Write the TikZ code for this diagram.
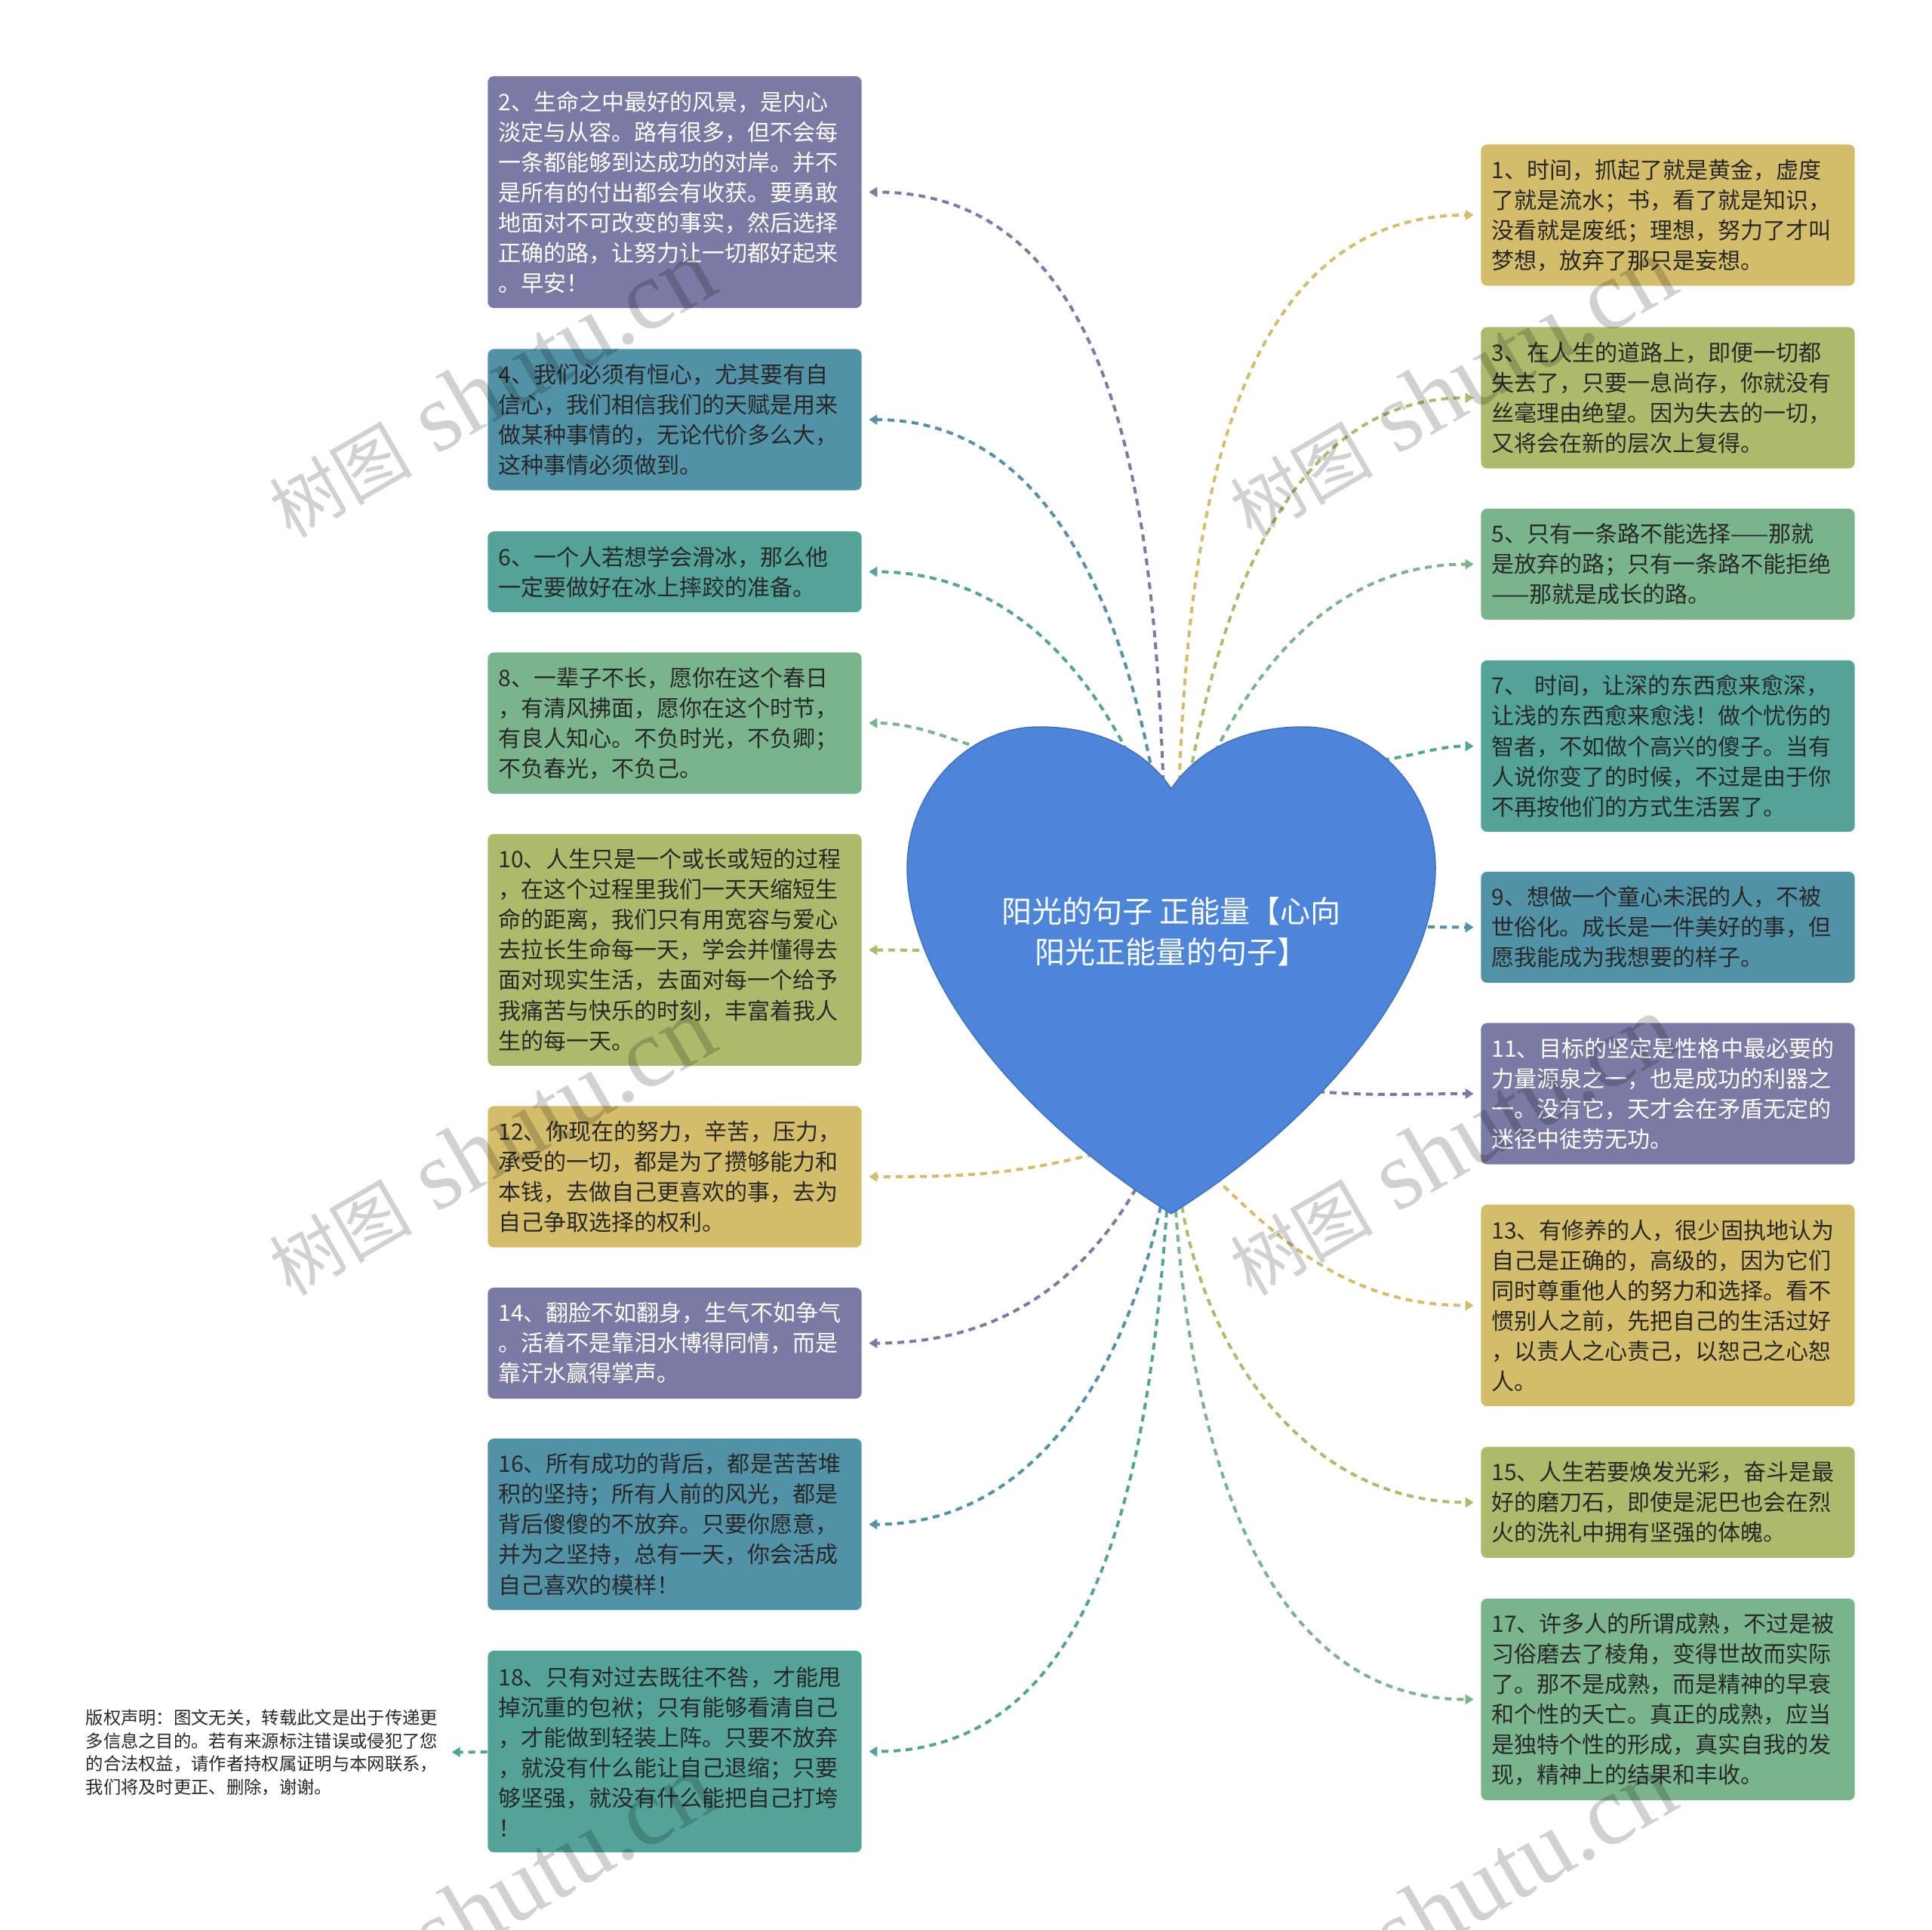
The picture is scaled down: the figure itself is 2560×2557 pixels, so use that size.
\documentclass[tikz,border=0pt]{standalone}
\usepackage{fontspec}
\newfontfamily\cjk{Noto Sans CJK SC}
\newfontfamily\wmserif{Liberation Serif}
\usetikzlibrary{arrows.meta}
\definecolor{cpurple}{RGB}{122,122,164}
\definecolor{cblue}{RGB}{82,146,167}
\definecolor{cteal}{RGB}{83,163,152}
\definecolor{cgreen}{RGB}{122,180,140}
\definecolor{colive}{RGB}{173,186,108}
\definecolor{cyellow}{RGB}{212,189,106}
\definecolor{cheart}{RGB}{76,133,218}
\definecolor{cdark}{RGB}{40,40,40}
\tikzset{sunmap/.style={x=0.01cm,y=0.01cm},
  card/.style={fill=#1,rounded corners=0.08cm,inner xsep=0.14cm,inner ysep=0pt,text width=4.67cm,
    align=left,text=cdark,font=\cjk\fontsize{8.54pt}{11.38pt}\selectfont},
  nlines/.style={minimum height={0.4cm*#1+0.27cm}},
  link/.style={draw=#1,line width=0.04cm,dash pattern=on 0.09cm off 0.07cm,
    -{Triangle[length=0.11cm,width=0.13cm]},shorten >=0.09cm},
  wmark/.style={rotate=30,text=black,text opacity=0.18,font=\wmserif\fontsize{37pt}{39pt}\selectfont}}

\begin{document}
\begin{tikzpicture}[sunmap]
    \fill[white] (0,0) rectangle (2560,-2557);
    \useasboundingbox (0,0) rectangle (2560,-2557);
    % left column
    \node[card=cpurple,nlines=7,text=white] (b2) at (894,-254.5) {2、生命之中最好的风景，是内心\\淡定与从容。路有很多，但不会每\\一条都能够到达成功的对岸。并不\\是所有的付出都会有收获。要勇敢\\地面对不可改变的事实，然后选择\\正确的路，让努力让一切都好起来\\。早安！};
    \node[card=cblue,nlines=4] (b4) at (894,-556) {4、我们必须有恒心，尤其要有自\\信心，我们相信我们的天赋是用来\\做某种事情的，无论代价多么大，\\这种事情必须做到。};
    \node[card=cteal,nlines=2] (b6) at (894,-757.5) {6、一个人若想学会滑冰，那么他\\一定要做好在冰上摔跤的准备。};
    \node[card=cgreen,nlines=4] (b8) at (894,-958) {8、一辈子不长，愿你在这个春日\\，有清风拂面，愿你在这个时节，\\有良人知心。不负时光，不负卿；\\不负春光，不负己。};
    \node[card=colive,nlines=7] (b10) at (894,-1258.5) {10、人生只是一个或长或短的过程\\，在这个过程里我们一天天缩短生\\命的距离，我们只有用宽容与爱心\\去拉长生命每一天，学会并懂得去\\面对现实生活，去面对每一个给予\\我痛苦与快乐的时刻，丰富着我人\\生的每一天。};
    \node[card=cyellow,nlines=4] (b12) at (894,-1559) {12、你现在的努力，辛苦，压力，\\承受的一切，都是为了攒够能力和\\本钱，去做自己更喜欢的事，去为\\自己争取选择的权利。};
    \node[card=cpurple,nlines=3,text=white] (b14) at (894,-1779.5) {14、翻脸不如翻身，生气不如争气\\。活着不是靠泪水博得同情，而是\\靠汗水赢得掌声。};
    \node[card=cblue,nlines=5] (b16) at (894,-2019.5) {16、所有成功的背后，都是苦苦堆\\积的坚持；所有人前的风光，都是\\背后傻傻的不放弃。只要你愿意，\\并为之坚持，总有一天，你会活成\\自己喜欢的模样！};
    \node[card=cteal,nlines=6] (b18) at (894,-2320.5) {18、只有对过去既往不咎，才能甩\\掉沉重的包袱；只有能够看清自己\\，才能做到轻装上阵。只要不放弃\\，就没有什么能让自己退缩；只要\\够坚强，就没有什么能把自己打垮\\！};
    % right column
    \node[card=cyellow,nlines=4] (b1) at (2210,-285) {1、时间，抓起了就是黄金，虚度\\了就是流水；书，看了就是知识，\\没看就是废纸；理想，努力了才叫\\梦想，放弃了那只是妄想。};
    \node[card=colive,nlines=4] (b3) at (2210,-527) {3、在人生的道路上，即便一切都\\失去了，只要一息尚存，你就没有\\丝毫理由绝望。因为失去的一切，\\又将会在新的层次上复得。};
    \node[card=cgreen,nlines=3] (b5) at (2210,-747.5) {5、只有一条路不能选择——那就\\是放弃的路；只有一条路不能拒绝\\——那就是成长的路。};
    \node[card=cteal,nlines=5] (b7) at (2210,-988.5) {7、 时间，让深的东西愈来愈深，\\让浅的东西愈来愈浅！做个忧伤的\\智者，不如做个高兴的傻子。当有\\人说你变了的时候，不过是由于你\\不再按他们的方式生活罢了。};
    \node[card=cblue,nlines=3] (b9) at (2210,-1228.5) {9、想做一个童心未泯的人，不被\\世俗化。成长是一件美好的事，但\\愿我能成为我想要的样子。};
    \node[card=cpurple,nlines=4,text=white] (b11) at (2210,-1449) {11、目标的坚定是性格中最必要的\\力量源泉之一，也是成功的利器之\\一。没有它，天才会在矛盾无定的\\迷径中徒劳无功。};
    \node[card=cyellow,nlines=6] (b13) at (2210,-1729.5) {13、有修养的人，很少固执地认为\\自己是正确的，高级的，因为它们\\同时尊重他人的努力和选择。看不\\惯别人之前，先把自己的生活过好\\，以责人之心责己，以恕己之心恕\\人。};
    \node[card=colive,nlines=3] (b15) at (2210,-1990.5) {15、人生若要焕发光彩，奋斗是最\\好的磨刀石，即使是泥巴也会在烈\\火的洗礼中拥有坚强的体魄。};
    \node[card=cgreen,nlines=6] (b17) at (2210,-2251.5) {17、许多人的所谓成熟，不过是被\\习俗磨去了棱角，变得世故而实际\\了。那不是成熟，而是精神的早衰\\和个性的夭亡。真正的成熟，应当\\是独特个性的形成，真实自我的发\\现，精神上的结果和丰收。};
    % start points on the heart
    \foreach \b/\x/\y in {2/1542/-1052,4/1530/-1042,6/1508/-1025,8/1330/-1000,10/1250/-1259,12/1465/-1525,
      14/1505/-1575,16/1538/-1598,18/1546/-1604,1/1562/-1052,3/1574/-1042,5/1596/-1025,7/1800/-1010,
      9/1860/-1228,11/1730/-1445,13/1610/-1560,15/1566/-1598,17/1558/-1604}
      \coordinate (s\b) at (\x,\y);
    \foreach \b/\o/\c in {2/92/cpurple,4/100/cblue,6/115/cteal,8/165/cgreen,10/180/colive,12/195/cyellow,
      14/240/cpurple,16/258/cblue,18/266/cteal}
      \draw[link=\c] (s\b) to[out=\o,in=0] (b\b);
    \foreach \b/\o/\c in {1/88/cyellow,3/80/colive,5/65/cgreen,7/3/cteal,9/0/cblue,11/-5/cpurple,
      13/-45/cyellow,15/-80/colive,17/-86/cgreen}
      \draw[link=\c] (s\b) to[out=\o,in=180] (b\b);
    % heart
    \filldraw[fill=cheart,draw=cheart!85!black,line width=0.015cm] (1552,-1045)
      .. controls (1515,-990) and (1450,-963) .. (1377,-963)
      .. controls (1281,-963) and (1202,-1049) .. (1202,-1150)
      .. controls (1202,-1300) and (1355,-1485) .. (1552,-1608)
      .. controls (1749,-1485) and (1902,-1300) .. (1902,-1150)
      .. controls (1902,-1049) and (1823,-963) .. (1727,-963)
      .. controls (1654,-963) and (1589,-990) .. (1552,-1045) -- cycle;
    \node[text=white,align=center,font=\cjk\fontsize{11.4pt}{15.4pt}\selectfont] (root) at (1552,-1234)
      {阳光的句子 正能量【心向\\阳光正能量的句子】};
    % copyright note
    \node[anchor=west,text=cdark,text width=4.70cm,align=left,inner xsep=0.05cm,
      font=\cjk\fontsize{6.63pt}{8.68pt}\selectfont] (note) at (108,-2322)
      {版权声明：图文无关，转载此文是出于传递更\\多信息之目的。若有来源标注错误或侵犯了您\\的合法权益，请作者持权属证明与本网联系，\\我们将及时更正、删除，谢谢。};
    \draw[link=cteal] (b18) -- (note);
    % watermarks
    \foreach \wx/\wy [count=\i] in {650/-514,1923/-514,650/-1518,1923/-1518,650/-2522,1923/-2522}
      \node[wmark] (wm\i) at (\wx,\wy) {{\cjk\fontsize{27pt}{29pt}\selectfont 树图} shutu.cn};
  \end{tikzpicture}
\end{document}
